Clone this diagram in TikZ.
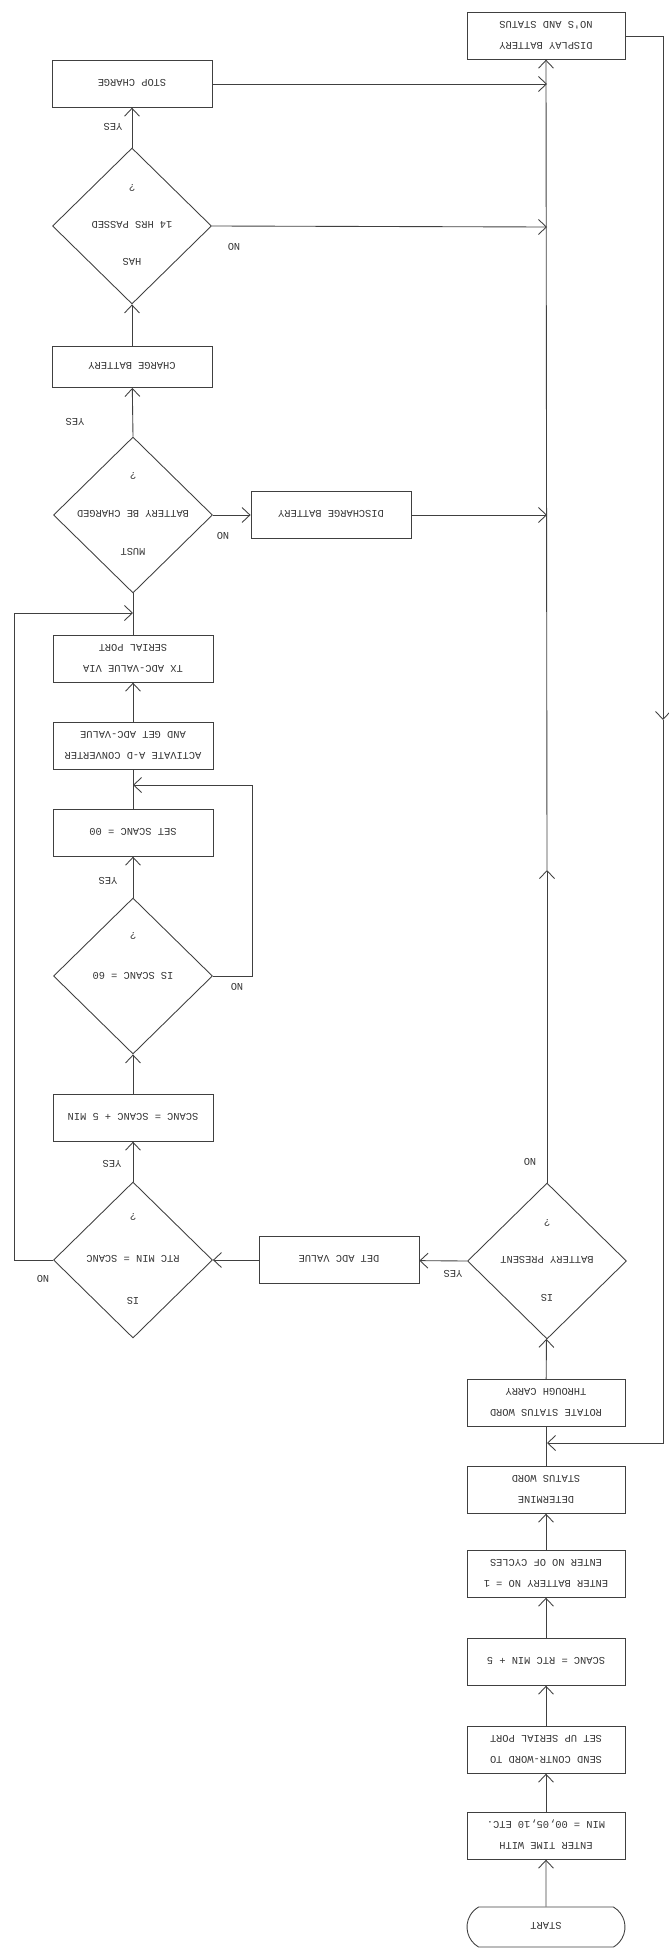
\documentclass[tikz,border=0pt]{standalone}
\usepackage{fontspec}
\setmonofont{Liberation Mono}
\usepackage{graphicx}
\usetikzlibrary{shapes.geometric,shapes.misc,arrows.meta}
% the chart is printed upside down: every text block is turned by 180 degrees
\newcommand{\upside}[1]{\rotatebox[origin=c]{180}{\begin{tabular}{@{}c@{}}#1\end{tabular}}}
\begin{document}
\begin{tikzpicture}[x=0.02cm,y=-0.02cm,line width=0.5pt,
  every node/.style={font=\fontsize{5.9}{12}\ttfamily,text=black!80},
  box/.style={draw=black!75,rectangle,inner sep=0pt,minimum width=3.16cm,minimum height=0.93cm},
  lbox/.style={box,minimum width=3.2cm},
  dec/.style={draw=black!75,diamond,inner sep=0pt,minimum width=3.18cm,minimum height=3.12cm},
  term/.style={draw=black!75,rounded rectangle,rounded rectangle arc length=120,inner sep=0pt,minimum width=3.16cm,minimum height=0.8cm},
  lbl/.style={inner sep=0pt},
  arr/.style={draw=black!75,-{Straight Barb[length=4.5pt,width=8.5pt]}},
  ln/.style={draw=black!75}]
\useasboundingbox (0,0) rectangle (669,1950);

% ---- main column (right) ----
\node[term] (start) at (546,1927) {\upside{START}};
\node[box] (entime) at (546,1836) {\upside{ENTER TIME WITH\\MIN = 00,05,10 ETC.}};
\node[box] (send) at (546,1750) {\upside{SEND CONTR-WORD TO\\SET UP SERIAL PORT}};
\node[box] (scrtc) at (546,1662) {\upside{SCANC = RTC MIN + 5}};
\node[box] (entbat) at (546,1574) {\upside{ENTER BATTERY NO = 1\\ENTER NO OF CYCLES}};
\node[box] (determ) at (546,1490) {\upside{DETERMINE\\STATUS WORD}};
\node[box] (rotate) at (546,1403) {\upside{ROTATE STATUS WORD\\THROUGH CARRY}};
\node[dec] (bp) at (547,1261) {};
\node[lbl] (bptxt) at (bp) {\upside{IS\\[9.5pt]BATTERY PRESENT\\[9.5pt]?}};
\node[box] (disp) at (546,36) {\upside{DISPLAY BATTERY\\NO'S AND STATUS}};

% ---- left column ----
\node[lbox] (detadc) at (339,1260) {\upside{DET ADC VALUE}};
\node[dec] (rtc) at (133,1260) {};
\node[lbl] (rtctxt) at (rtc) {\upside{IS\\[12pt]RTC MIN = SCANC\\[12pt]?}};
\node[lbox] (sc5) at (133,1118) {\upside{SCANC = SCANC + 5 MIN}};
\node[dec] (s60) at (133,976) {};
\node[lbl] (s60txt) at (133,957) {\upside{IS SCANC = 60\\[10.8pt]?}};
\node[lbox] (setsc) at (133,833) {\upside{SET SCANC = 00}};
\node[lbox] (act) at (133,746) {\upside{ACTIVATE A-D CONVERTER\\AND GET ADC-VALUE}};
\node[lbox] (tx) at (133,659) {\upside{TX ADC-VALUE VIA\\SERIAL PORT}};
\node[dec] (must) at (133,515) {};
\node[lbl] (musttxt) at (must) {\upside{MUST\\[9.6pt]BATTERY BE CHARGED\\[9.6pt]?}};
\node[lbox] (dis) at (331,515) {\upside{DISCHARGE BATTERY}};
\node[lbox,minimum height=0.82cm] (charge) at (132,367) {\upside{CHARGE BATTERY}};
\node[dec] (has) at (132,226) {};
\node[lbl] (hastxt) at (has) {\upside{HAS\\[9pt]14 HRS PASSED\\[9pt]?}};
\node[lbox] (stop) at (132,84) {\upside{STOP CHARGE}};

% ---- junction points ----
\coordinate (j1) at (133,785);
\coordinate (j2) at (133,613);
\coordinate (j3) at (547,1443);
\coordinate (m1) at (547,84);
\coordinate (m2) at (547,227);
\coordinate (m3) at (547,515);
\coordinate (u1) at (547,870);
\coordinate (r1) at (663,36);
\coordinate (r2) at (663,720);
\coordinate (r3) at (663,1443);
\coordinate (l1) at (14,1260);
\coordinate (l2) at (14,613);
\coordinate (k1) at (252,976);
\coordinate (k2) at (252,785);

% ---- connectors: main column ----
\draw[arr] (start) -- (entime);
\draw[arr] (entime) -- (send);
\draw[arr] (send) -- (scrtc);
\draw[arr] (scrtc) -- (entbat);
\draw[arr] (entbat) -- (determ);
\draw[ln] (determ) -- (rotate);
\draw[arr] (rotate) -- (bp);
\draw[arr] (bp.north) -- (u1);
\draw[arr] (u1) -- (disp.south);
\draw[arr] (disp.east) -- (r1) -- (r2);
\draw[arr] (r2) -- (r3) -- (j3);

% ---- connectors: left column ----
\draw[arr] (bp.west) -- (detadc);
\draw[arr] (detadc) -- (rtc.east);
\draw[arr] (rtc.north) -- (sc5);
\draw[arr] (rtc.west) -- (l1) -- (l2) -- (j2);
\draw[arr] (sc5) -- (s60.south);
\draw[arr] (s60.north) -- (setsc);
\draw[arr] (s60.east) -- (k1) -- (k2) -- (j1);
\draw[ln] (setsc) -- (act);
\draw[arr] (act) -- (tx);
\draw[ln] (tx) -- (must.south);
\draw[arr] (must.east) -- (dis);
\draw[arr] (dis) -- (m3);
\draw[arr] (must.north) -- (charge);
\draw[arr] (charge) -- (has.south);
\draw[arr] (has.east) -- (m2);
\draw[arr] (has.north) -- (stop);
\draw[arr] (stop) -- (m1);

% ---- branch labels ----
\node[lbl] (bpno) at (530,1163) {\upside{NO}};
\node[lbl] (bpyes) at (453,1275) {\upside{YES}};
\node[lbl] (rtcno) at (43,1280) {\upside{NO}};
\node[lbl] (rtcyes) at (112,1165) {\upside{YES}};
\node[lbl] (s60yes) at (108,882) {\upside{YES}};
\node[lbl] (s60no) at (237,988) {\upside{NO}};
\node[lbl] (mustno) at (223,537) {\upside{NO}};
\node[lbl] (mustyes) at (75,423) {\upside{YES}};
\node[lbl] (hasyes) at (113,128) {\upside{YES}};
\node[lbl] (hasno) at (234,248) {\upside{NO}};
\end{tikzpicture}
\end{document}
